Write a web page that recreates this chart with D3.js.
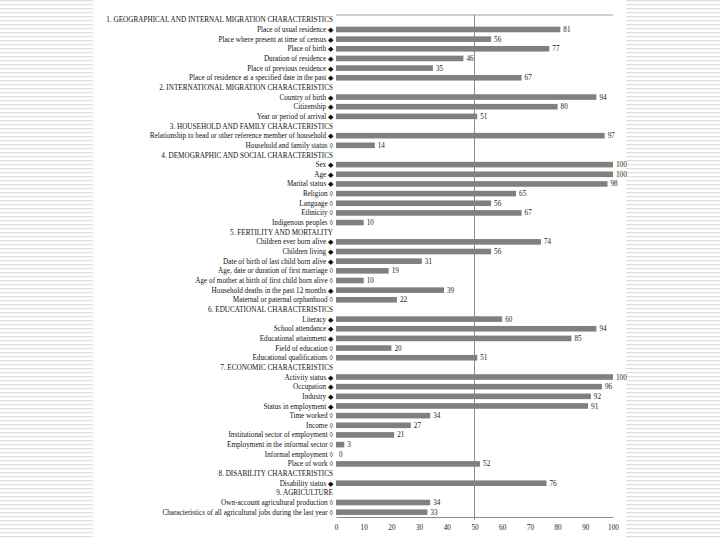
<!DOCTYPE html>
<html>
<head>
<meta charset="utf-8">
<script src="https://cdn.jsdelivr.net/npm/d3@7"></script>
<style>
  body { margin: 0; background: #fff; }
  svg { display: block; }
</style>
</head>
<body>
<svg id="chart"></svg>
<script>
// rows top to bottom; headers have a null value
const labels = [
    "1. GEOGRAPHICAL AND INTERNAL MIGRATION CHARACTERISTICS",
    "Place of usual residence",
    "Place where present at time of census",
    "Place of birth",
    "Duration of residence",
    "Place of previous residence",
    "Place of residence at a specified date in the past",
    "2. INTERNATIONAL MIGRATION CHARACTERISTICS",
    "Country of birth",
    "Citizenship",
    "Year or period of arrival",
    "3. HOUSEHOLD AND FAMILY CHARACTERISTICS",
    "Relationship to head or other reference member of household",
    "Household and family status",
    "4. DEMOGRAPHIC AND SOCIAL CHARACTERISTICS",
    "Sex",
    "Age",
    "Marital status",
    "Religion",
    "Language",
    "Ethnicity",
    "Indigenous peoples",
    "5. FERTILITY AND MORTALITY",
    "Children ever born alive",
    "Children living",
    "Date of birth of last child born alive",
    "Age, date or duration of first marriage",
    "Age of mother at birth of first child born alive",
    "Household deaths in the past 12 months",
    "Maternal or paternal orphanhood",
    "6. EDUCATIONAL CHARACTERISTICS",
    "Literacy",
    "School attendance",
    "Educational attainment",
    "Field of education",
    "Educational qualifications",
    "7. ECONOMIC CHARACTERISTICS",
    "Activity status",
    "Occupation",
    "Industry",
    "Status in employment",
    "Time worked",
    "Income",
    "Institutional sector of employment",
    "Employment in the informal sector",
    "Informal employment",
    "Place of work",
    "8. DISABILITY CHARACTERISTICS",
    "Disability status",
    "9. AGRICULTURE",
    "Own-account agricultural production",
    "Characteristics of all agricultural jobs during the last year"
];

const values = [
    null, 81, 56, 77, 46, 35, 67,
    null, 94, 80, 51,
    null, 97, 14,
    null, 100, 100, 98, 65, 56, 67, 10,
    null, 74, 56, 31, 19, 10, 39, 22,
    null, 60, 94, 85, 20, 51,
    null, 100, 96, 92, 91, 34, 27, 21, 3, 0, 52,
    null, 76,
    null, 34, 33
];

// 1 = core topic (filled diamond), 0 = other topic (open diamond)
const core = [
    null, 1, 1, 1, 1, 1, 1,
    null, 1, 1, 1,
    null, 1, 0,
    null, 1, 1, 1, 0, 0, 0, 0,
    null, 1, 1, 1, 0, 0, 1, 0,
    null, 1, 1, 1, 0, 0,
    null, 1, 1, 1, 1, 0, 0, 0, 0, 0, 0,
    null, 1,
    null, 0, 0
];

const xTicks = [0, 10, 20, 30, 40, 50, 60, 70, 80, 90, 100];

const width = 720;
const height = 540;
const plot = { left: 336, right: 613, top: 15, bottom: 517 };

const svg = d3.select("#chart")
    .attr("width", width)
    .attr("height", height);

// striped side panels
const stripes = svg.append("g").attr("class", "stripes");
for (let y = 0; y < height; y += 4) {
    stripes.append("rect").attr("x", 0).attr("y", y).attr("width", 93).attr("height", 1.2).attr("fill", "#dedede");
    stripes.append("rect").attr("x", 626).attr("y", y).attr("width", 94).attr("height", 1.2).attr("fill", "#dedede");
}

const rows = labels.map((label, i) => ({ i, label, value: values[i], core: core[i] }));

const x = d3.scaleLinear()
    .domain([0, 100])
    .range([plot.left, plot.right]);

const y = d3.scaleBand()
    .domain(rows.map(d => d.i))
    .range([plot.top, plot.bottom])
    .paddingInner(0.42)
    .paddingOuter(0.21);

const font = "'Liberation Serif', 'Times New Roman', serif";

// top frame line and gridline at 50
svg.append("line")
    .attr("x1", plot.left).attr("x2", plot.right)
    .attr("y1", plot.top).attr("y2", plot.top)
    .attr("stroke", "#a0a0a0").attr("stroke-width", 1);

svg.append("line")
    .attr("x1", x(50)).attr("x2", x(50))
    .attr("y1", plot.top).attr("y2", plot.bottom + 3)
    .attr("stroke", "#8c8c8c").attr("stroke-width", 1);

const barRows = rows.filter(d => d.value !== null);

svg.append("g")
    .selectAll("rect")
    .data(barRows)
    .join("rect")
    .attr("x", x(0))
    .attr("y", d => y(d.i))
    .attr("width", d => x(d.value) - x(0))
    .attr("height", y.bandwidth())
    .attr("fill", "#808080");

svg.append("g")
    .selectAll("text")
    .data(barRows)
    .join("text")
    .attr("x", d => x(d.value) + 3)
    .attr("y", d => y(d.i) + y.bandwidth() / 2)
    .attr("dy", "0.35em")
    .attr("font-family", font)
    .attr("font-size", "7.2px")
    .attr("fill", "#222")
    .text(d => d.value);

// category labels
svg.append("g")
    .selectAll("text")
    .data(rows)
    .join("text")
    .attr("x", plot.left - 3)
    .attr("y", d => y(d.i) + y.bandwidth() / 2)
    .attr("dy", "0.35em")
    .attr("text-anchor", "end")
    .attr("font-family", font)
    .attr("font-size", "7.2px")
    .attr("fill", "#111")
    .text(d => d.value === null ? d.label : d.label + " " + (d.core ? "\u25C6" : "\u25CA"));

// x axis
const xAxis = svg.append("g")
    .attr("transform", `translate(0, ${plot.bottom})`)
    .call(d3.axisBottom(x).tickValues(xTicks).tickSize(0).tickPadding(8));

xAxis.select(".domain").attr("stroke", "#8c8c8c");
xAxis.selectAll("text")
    .attr("font-family", font)
    .attr("font-size", "7.2px")
    .attr("fill", "#222");
</script>
</body>
</html>
